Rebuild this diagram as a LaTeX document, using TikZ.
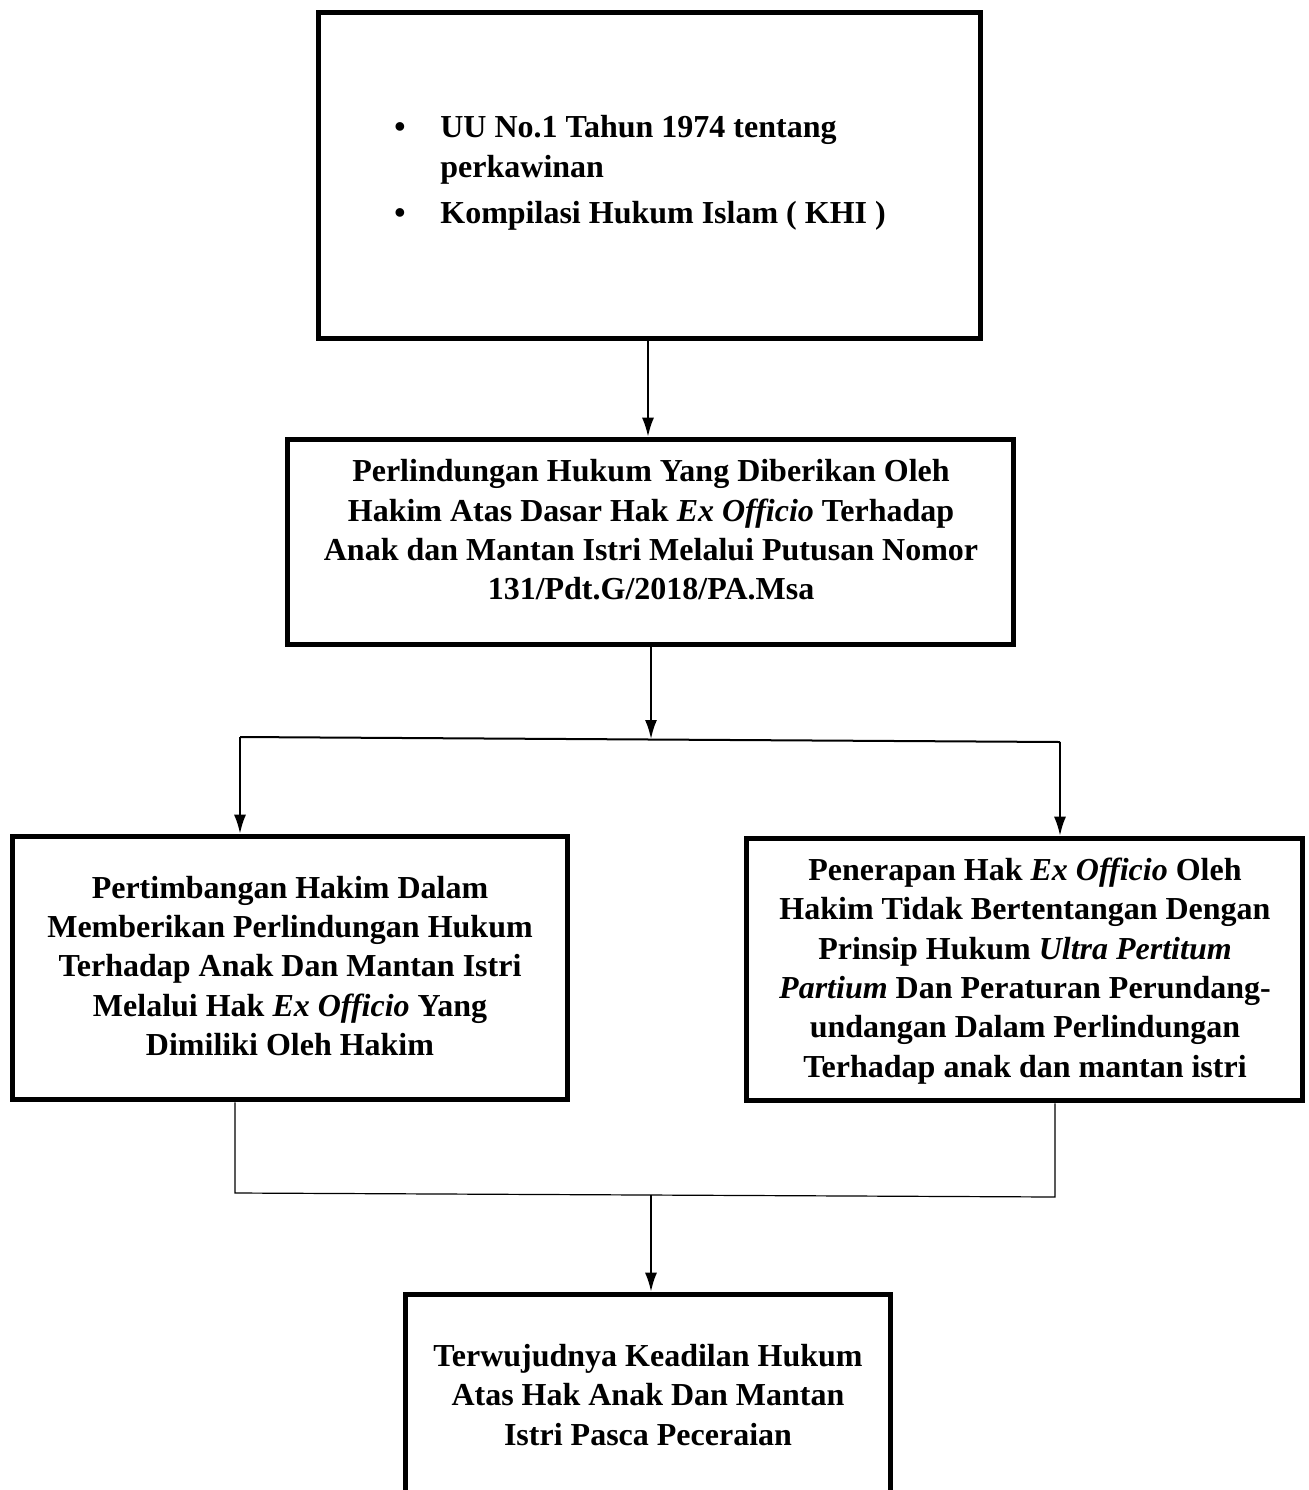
\documentclass[tikz,border=0pt]{standalone}
\usepackage{fontspec}
\setmainfont{Liberation Serif}
\usetikzlibrary{arrows.meta}
\begin{document}
\begin{tikzpicture}[x=0.5pt,y=-0.5pt,
  box/.style={draw,line width=2.8pt,inner sep=0pt},
  txt/.style={font=\fontsize{16}{19.7}\selectfont\bfseries,align=center,inner sep=0pt},
  conn/.style={line width=1pt,-{Latex[length=9.5pt,width=6pt]}},
  thin/.style={line width=0.6pt}]
\useasboundingbox (0,0) rectangle (1309,1490);
% boxes
\node[box,minimum width=331pt,minimum height=163pt] (b1) at (649.5,175.5) {};
\node[box,minimum width=363pt,minimum height=102.5pt] (b2) at (650.5,542) {};
\node[box,minimum width=277.5pt,minimum height=131.5pt] (bl) at (290,968) {};
\node[box,minimum width=278pt,minimum height=131pt] (br) at (1024.5,969.5) {};
\node[box,minimum width=242.5pt,minimum height=101.5pt] (bb) at (648,1396) {};
% texts
\node[txt,align=left,anchor=west] (t1) at (394,173) {\makebox[23pt][l]{\textbullet}UU No.1 Tahun 1974 tentang\\
\makebox[23pt][l]{}perkawinan\\[3.5pt]
\makebox[23pt][l]{\textbullet}Kompilasi Hukum Islam ( KHI )};
\node[txt] (t2) at (651,530) {Perlindungan Hukum Yang Diberikan Oleh\\
Hakim Atas Dasar Hak \textit{Ex Officio} Terhadap\\
Anak dan Mantan Istri Melalui Putusan Nomor\\
131/Pdt.G/2018/PA.Msa};
\node[txt] (tl) at (290,966) {Pertimbangan Hakim Dalam\\
Memberikan Perlindungan Hukum\\
Terhadap Anak Dan Mantan Istri\\
Melalui Hak \textit{Ex Officio} Yang\\
Dimiliki Oleh Hakim};
\node[txt] (tr) at (1025,971) {Penerapan Hak \textit{Ex Officio} Oleh\\
Hakim Tidak Bertentangan Dengan\\
Prinsip Hukum \textit{Ultra Pertitum}\\
\textit{Partium} Dan Peraturan Perundang-\\
undangan Dalam Perlindungan\\
Terhadap anak dan mantan istri};
\node[txt] (tb) at (648,1395) {Terwujudnya Keadilan Hukum\\
Atas Hak Anak Dan Mantan\\
Istri Pasca Peceraian};
% junction coordinates
\coordinate (jl) at (240,737);
\coordinate (jr) at (1060,742);
\coordinate (jm) at (651,739);
\coordinate (kl) at (235,1193);
\coordinate (kr) at (1055,1197);
\coordinate (km) at (651,1195);
% connectors
\draw[conn] (b1.south -| 648,0) -- (648,0 |- b2.north);
\draw[conn] (b2.south -| jm) -- (jm);
\draw[line width=1pt] (jl) -- (jr);
\draw[conn] (jl) -- (jl |- bl.north);
\draw[conn] (jr) -- (jr |- br.north);
\draw[thin] (bl.south -| kl) -- (kl) -- (kr) -- (br.south -| kr);
\draw[conn] (km) -- (km |- bb.north);
\end{tikzpicture}
\end{document}
